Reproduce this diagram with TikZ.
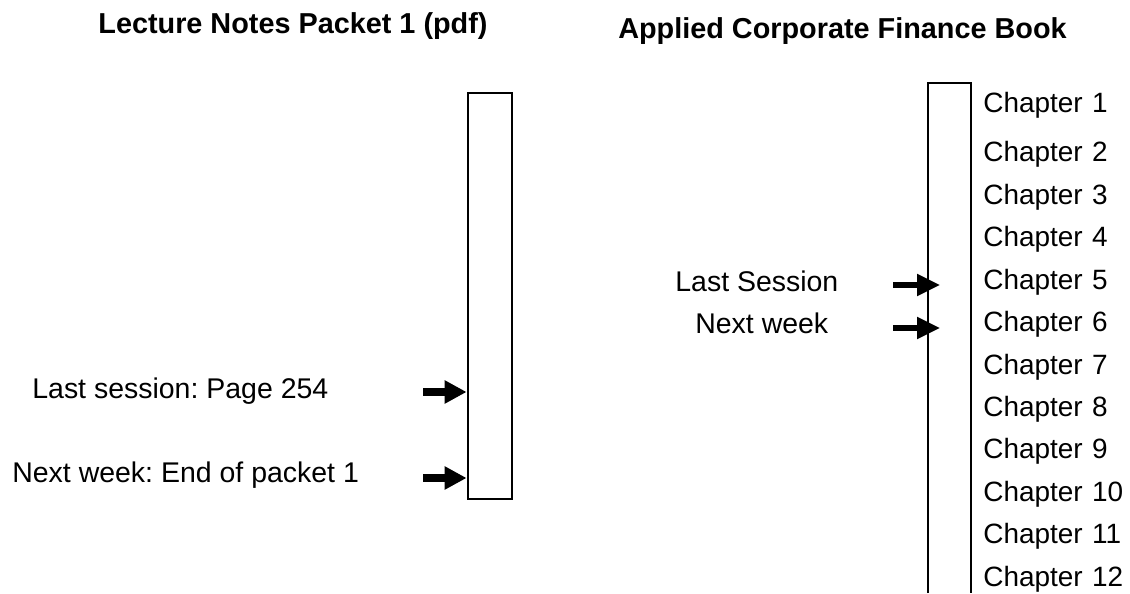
\documentclass[tikz,border=0pt]{standalone}
\usepackage{fontspec}
\setmainfont{Liberation Sans}
\usetikzlibrary{arrows.meta,positioning}
\frenchspacing

\begin{document}
\begin{tikzpicture}[auto,node distance=0.848cm]
		\tikzstyle{txt}=[inner sep=0,font=\fontsize{16.2}{19}\selectfont]
		\tikzstyle{heading}=[inner sep=0,anchor=base,font=\fontsize{16.4}{20}\selectfont\bfseries]
		\tikzstyle{chap}=[inner sep=0,font=\fontsize{15.9}{19}\selectfont,text width=3.2cm,align=left]
		\tikzstyle{notearrow}=[-{Triangle[length=0.44cm,width=0.44cm]},line width=4pt]
		\tikzstyle{bookarrow}=[-{Triangle[length=0.46cm,width=0.42cm]},line width=3pt]
		\useasboundingbox (0,0) rectangle (22.6,11.86);
		% headings
		\node[heading] (HL) at (5.86,11.18) {Lecture Notes Packet 1 (pdf)};
		\node[heading] (HR) at (16.85,11.08) {Applied Corporate Finance Book};
		% lecture notes packet
		\node[draw,line width=1.6pt,minimum width=0.88cm,minimum height=8.12cm,inner sep=0] (P) at (9.8,5.94) {};
		\node[txt,anchor=base west] (LL) at (0.64,3.90) {Last session: Page 254};
		\node[txt,anchor=base west] (NL) at (0.24,2.22) {Next week: End of packet 1};
		\coordinate (L1) at (8.46,4.02);
		\coordinate (L2) at (8.46,2.30);
		\draw[notearrow] (L1) -- (L1 -| P.west);
		\draw[notearrow] (L2) -- (L2 -| P.west);
		% book
		\draw[line width=1.3pt] (18.56,0) |- (19.42,10.2) -- (19.42,0);
		\node[chap,anchor=base west] (C1) at (19.66,9.6) {Chapter 1};
		\node[chap,node distance=0.98cm] (C2) [below of=C1] {Chapter 2};
		\node[chap] (C3) [below of=C2] {Chapter 3};
		\node[chap] (C4) [below of=C3] {Chapter 4};
		\node[chap] (C5) [below of=C4] {Chapter 5};
		\node[chap] (C6) [below of=C5] {Chapter 6};
		\node[chap] (C7) [below of=C6] {Chapter 7};
		\node[chap] (C8) [below of=C7] {Chapter 8};
		\node[chap] (C9) [below of=C8] {Chapter 9};
		\node[chap] (C10) [below of=C9] {Chapter 10};
		\node[chap] (C11) [below of=C10] {Chapter 11};
		\node[chap] (C12) [below of=C11] {Chapter 12};
		\node[txt,anchor=base west] (LR) at (13.5,6.02) {Last Session};
		\node[txt,anchor=base west] (NR) at (13.9,5.18) {Next week};
		\coordinate (R1) at (17.86,6.16);
		\coordinate (T1) at (18.8,6.16);
		\coordinate (R2) at (17.86,5.30);
		\coordinate (T2) at (18.8,5.30);
		\draw[bookarrow] (R1) -- (T1);
		\draw[bookarrow] (R2) -- (T2);
	\end{tikzpicture}
\end{document}
